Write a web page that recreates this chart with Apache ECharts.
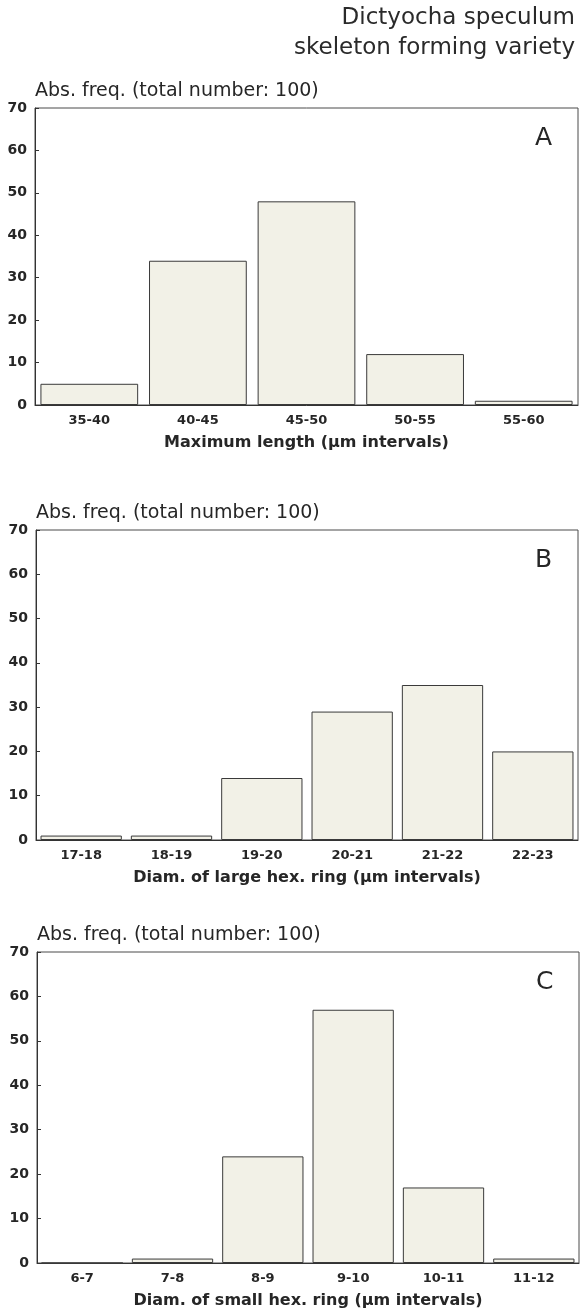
<!DOCTYPE html>
<html>
<head>
<meta charset="utf-8">
<script src="https://cdn.jsdelivr.net/npm/echarts@6/dist/echarts.min.js"></script>
<style>
html,body{margin:0;padding:0;background:#fff;}
#chart{width:581px;height:1312px;}
</style>
</head>
<body>
<div id="chart"></div>
<script>
// ---- data ----
const catsA = ['35-40', '40-45', '45-50', '50-55', '55-60'];
const valsA = [5, 34, 48, 12, 1];
const catsB = ['17-18', '18-19', '19-20', '20-21', '21-22', '22-23'];
const valsB = [1, 1, 14, 29, 35, 20];
const catsC = ['6-7', '7-8', '8-9', '9-10', '10-11', '11-12'];
const valsC = [0, 1, 24, 57, 17, 1];
const xNames = ['Maximum length (µm intervals)', 'Diam. of large hex. ring (µm intervals)', 'Diam. of small hex. ring (µm intervals)'];
const panelLetters = ['A', 'B', 'C'];
const yTitle = 'Abs. freq. (total number: 100)';
const mainTitle = ['Dictyocha speculum', 'skeleton forming variety'];
const yMin = 0, yMax = 70, yStep = 10;

// ---- layout ----
const FONT = '"DejaVu Sans", "Liberation Sans", sans-serif';
const INK = '#262626';
const grids = [
  {left: 35, top: 108, width: 543, height: 297},
  {left: 36, top: 530, width: 542, height: 310},
  {left: 37, top: 952, width: 542, height: 311}
];
const cats = [catsA, catsB, catsC];
const vals = [valsA, valsB, valsC];

const option = {
  animation: false,
  backgroundColor: '#ffffff',
  grid: grids.map(g => Object.assign({show: true, borderColor: '#4a4a4a', borderWidth: 1, backgroundColor: 'transparent'}, g)),
  xAxis: cats.map((c, i) => ({
    type: 'category', gridIndex: i, data: c,
    axisLine: {lineStyle: {color: '#333', width: 1}},
    axisTick: {alignWithLabel: true, inside: true, length: 5, lineStyle: {color: '#333'}},
    axisLabel: {color: INK, fontFamily: FONT, fontWeight: 'bold', fontSize: 13, margin: 9},
    name: xNames[i], nameLocation: 'middle', nameGap: 30,
    nameTextStyle: {color: INK, fontFamily: FONT, fontWeight: 'bold', fontSize: 16}
  })),
  yAxis: cats.map((c, i) => ({
    type: 'value', gridIndex: i, min: yMin, max: yMax, interval: yStep,
    axisLine: {show: true, lineStyle: {color: '#333', width: 1}},
    axisTick: {show: true, inside: true, length: 4, lineStyle: {color: '#333'}},
    splitLine: {show: false},
    axisLabel: {color: INK, fontFamily: FONT, fontWeight: 'bold', fontSize: 14, margin: 8}
  })),
  series: vals.map((v, i) => ({
    type: 'bar', xAxisIndex: i, yAxisIndex: i, data: v,
    barCategoryGap: '10%',
    itemStyle: {color: '#f2f1e7', borderColor: '#3a3a3a', borderWidth: 1}
  })),
  graphic: mainTitle.map((t, k) => ({
    type: 'text', right: 6, top: 7 + k * 30,
    style: {text: t, font: '23px ' + FONT, fill: '#2a2a2a'}
  })).concat(grids.map((g, i) => ({
    type: 'text', left: g.left, top: g.top - 26,
    style: {text: yTitle, font: '19px ' + FONT, fill: INK}
  }))).concat(grids.map((g, i) => ({
    type: 'text', left: g.left + g.width - 43, top: g.top + 18,
    style: {text: panelLetters[i], font: '25px ' + FONT, fill: INK}
  })))
};

const chart = echarts.init(document.getElementById('chart'), null, {renderer: 'canvas'});
chart.setOption(option);
</script>
</body>
</html>
